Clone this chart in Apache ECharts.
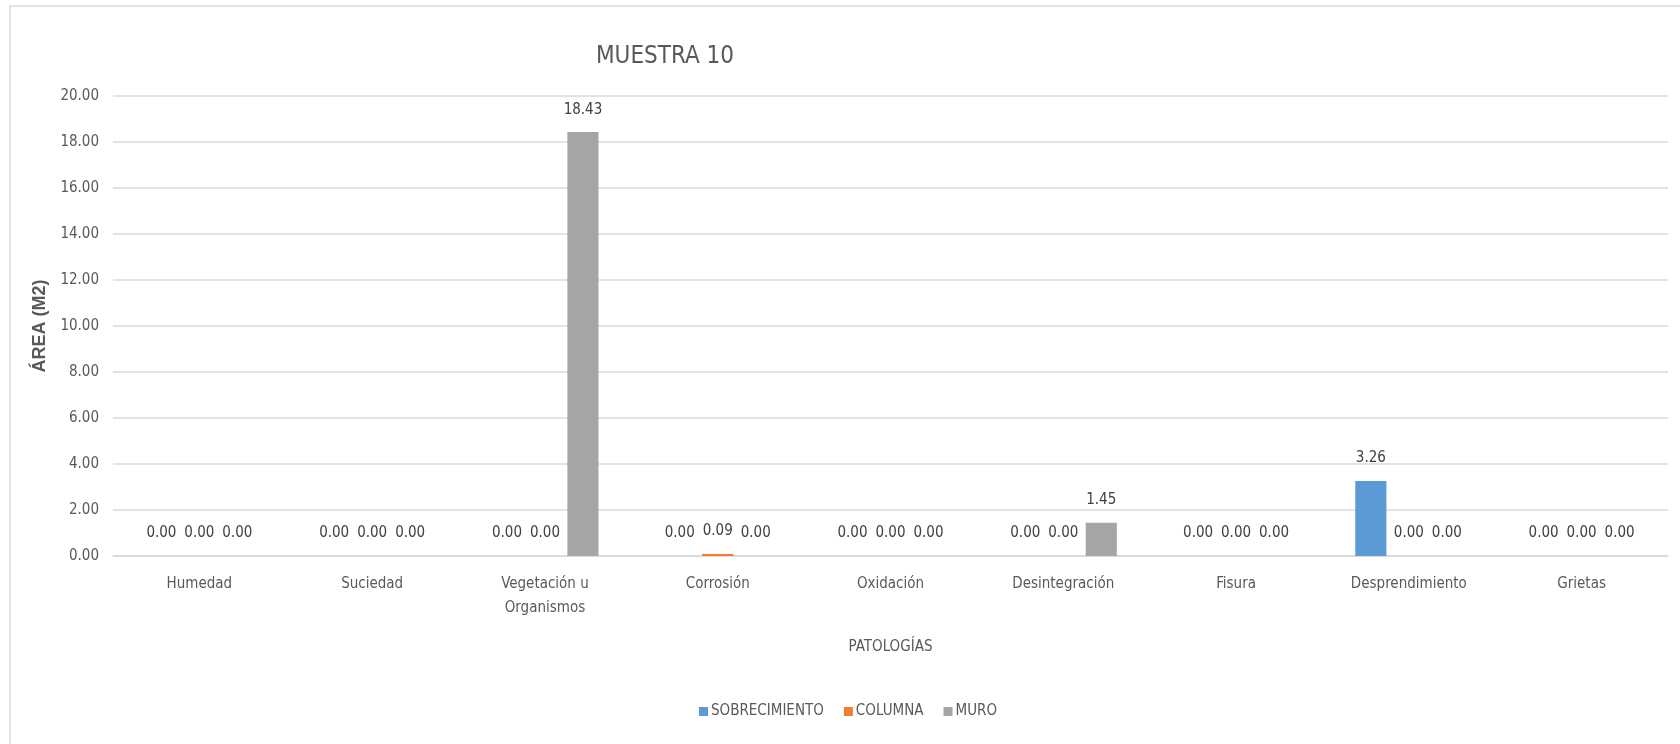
<!DOCTYPE html>
<html>
<head>
<meta charset="utf-8">
<script src="https://cdn.jsdelivr.net/npm/echarts@6/dist/echarts.min.js"></script>
<style>
  html, body { margin: 0; padding: 0; background: #ffffff; }
  #chart { width: 1680px; height: 744px; }
</style>
</head>
<body>
<div id="chart"></div>
<script>
// Pathologies found in sample 10, area in m² per structural element
const categories = ['Humedad', 'Suciedad', 'Vegetación u\nOrganismos', 'Corrosión', 'Oxidación',
  'Desintegración', 'Fisura', 'Desprendimiento', 'Grietas'];
const sobrecimiento = [0.00, 0.00, 0.00, 0.00, 0.00, 0.00, 0.00, 3.26, 0.00];
const columna = [0.00, 0.00, 0.00, 0.09, 0.00, 0.00, 0.00, 0.00, 0.00];
const muro = [0.00, 0.00, 18.43, 0.00, 0.00, 1.45, 0.00, 0.00, 0.00];
const seriesNames = ['SOBRECIMIENTO', 'COLUMNA', 'MURO'];
const seriesColors = ['#5B9BD5', '#ED7D31', '#A5A5A5'];

const narrow = '"Liberation Sans Narrow", "DejaVu Sans Condensed", sans-serif';
const textGray = '#595959';

const chart = echarts.init(document.getElementById('chart'), null, { renderer: 'canvas' });

function barSeries(name, data, color) {
  return {
    name: name,
    type: 'bar',
    data: data,
    barGap: '22%',
    barCategoryGap: '38%',
    itemStyle: { color: color },
    label: {
      show: true,
      position: 'top',
      distance: 15,
      color: '#404040',
      fontFamily: narrow,
      fontSize: 15,
      formatter: p => p.value.toFixed(2)
    }
  };
}

chart.setOption({
  animation: false,
  backgroundColor: '#ffffff',
  graphic: [{
    type: 'rect',
    shape: { x: 10, y: 6, width: 1700, height: 760 },
    style: { fill: 'none', stroke: '#d9d9d9', lineWidth: 1.5 },
    silent: true
  }],
  title: {
    text: 'MUESTRA 10',
    left: 660,
    top: 40,
    textAlign: 'center',
    textStyle: { fontFamily: narrow, fontSize: 24, fontWeight: 'normal', color: textGray }
  },
  legend: {
    data: seriesNames,
    left: 694,
    top: 699,
    icon: 'rect',
    itemWidth: 9,
    itemHeight: 9,
    itemGap: 20,
    textStyle: { fontFamily: narrow, fontSize: 15, color: textGray, padding: [0, 0, 0, -2] }
  },
  grid: { left: 113, right: 12, top: 96, bottom: 188, containLabel: false },
  xAxis: {
    type: 'category',
    data: categories,
    name: 'PATOLOGÍAS',
    nameLocation: 'middle',
    nameGap: 84,
    nameTextStyle: { fontFamily: narrow, fontSize: 15, color: textGray },
    axisLine: { show: true, lineStyle: { color: '#d9d9d9', width: 1.5 } },
    axisTick: { show: false },
    axisLabel: {
      interval: 0,
      margin: 16,
      fontFamily: narrow,
      fontSize: 15,
      lineHeight: 24,
      color: textGray
    }
  },
  yAxis: {
    type: 'value',
    min: 0,
    max: 20,
    interval: 2,
    name: 'ÁREA (M2)',
    nameLocation: 'middle',
    nameGap: 56,
    nameRotate: 90,
    nameTextStyle: { fontFamily: '"Liberation Sans", Arial, sans-serif', fontSize: 18, fontWeight: 'bold', color: textGray },
    axisLine: { show: false },
    axisTick: { show: false },
    axisLabel: {
      margin: 14,
      fontFamily: narrow,
      fontSize: 15,
      color: textGray,
      formatter: v => v.toFixed(2)
    },
    splitLine: { lineStyle: { color: '#d9d9d9', width: 1.5 } }
  },
  series: [
    barSeries(seriesNames[0], sobrecimiento, seriesColors[0]),
    barSeries(seriesNames[1], columna, seriesColors[1]),
    barSeries(seriesNames[2], muro, seriesColors[2])
  ]
});
</script>
</body>
</html>
